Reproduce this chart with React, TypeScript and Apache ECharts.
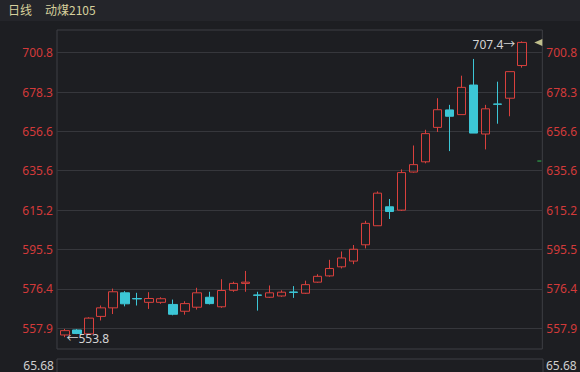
import React, { useEffect, useRef } from 'react';
import * as echarts from 'echarts';

// ---- data ----
const categories = ['1','2','3','4','5','6','7','8','9','10','11','12','13','14','15','16','17','18','19','20','21','22','23','24','25','26','27','28','29','30','31','32','33','34','35','36','37','38','39'];
const opens  = [554.8,557.1,555.3,563.4,567.4,574.5,571.8,570.0,570.0,569.0,565.8,567.7,572.4,567.9,575.7,579.0,573.5,572.4,573.0,574.9,574.3,579.6,582.6,587.0,589.8,597.8,607.3,616.9,615.2,634.9,640.3,658.8,668.4,665.8,682.3,655.2,671.7,674.9,693.4];
const closes = [556.8,555.5,562.6,567.4,575.0,569.3,571.6,571.8,571.7,564.4,569.4,574.5,569.4,575.6,579.0,579.6,573.3,574.5,574.8,574.7,578.4,582.4,586.2,591.3,595.6,608.5,623.9,614.5,634.6,638.8,655.4,668.5,664.9,681.0,655.7,669.0,671.5,689.9,706.8];
const lows   = [553.8,555.2,554.8,561.5,564.5,568.1,568.5,566.9,569.3,563.9,564.2,566.6,569.0,567.4,575.0,575.0,566.1,572.1,572.6,572.1,574.0,579.3,582.2,586.2,588.3,596.0,607.2,610.7,614.8,634.6,639.5,656.3,646.0,665.8,655.7,646.9,660.8,664.9,692.2];
const highs  = [557.6,557.5,563.0,568.5,576.5,575.3,574.5,574.8,572.4,571.3,570.5,576.9,575.0,581.0,579.8,585.0,575.0,578.0,575.7,577.7,580.3,583.4,590.4,594.5,597.7,609.8,624.8,620.9,636.3,649.0,657.5,674.9,671.2,687.6,697.2,671.2,684.2,689.9,707.4];
const priceTicks = [557.9, 576.4, 595.5, 615.2, 635.6, 656.6, 678.3, 700.8];
const priceMin = 548.4;
const priceMax = 714.1;
const volumeTicks = [65.68];
const settleMark = 640.7;
const headerPeriod = '日线';
const headerSymbol = '动煤2105';

const BG = '#1d1e22';
const UP = '#d9403d';
const DOWN = '#3cc6d6';
const AXIS_RED = '#d33a3a';
const GRID_LINE = '#36373c';
const FRAME = '#3e3f44';
const FONT = '"Noto Sans", "Noto Sans CJK SC", sans-serif';

export default function App() {
  const ref = useRef<HTMLDivElement>(null);
  useEffect(() => {
    document.body.style.margin = '0';
    document.body.style.background = BG;
    if (!ref.current) return;
    const chart = echarts.init(ref.current, null, { renderer: 'svg' });
    const candleData = opens.map((o, i) => [o, closes[i], lows[i], highs[i]]);
    const lastClose = closes[closes.length - 1];
    const priceAxisBase = {
      gridIndex: 0,
      type: 'log' as const,
      min: priceMin,
      max: priceMax,
      axisLine: { show: false },
      axisTick: { show: false, customValues: priceTicks },
      axisLabel: {
        customValues: priceTicks,
        formatter: (v: number) => Number(v).toFixed(1),
        color: AXIS_RED,
        fontSize: 12,
        fontFamily: FONT,
        margin: 4,
      },
    };
    const volAxisBase = {
      gridIndex: 2,
      type: 'value' as const,
      min: 0,
      max: volumeTicks[0],
      axisLine: { show: false },
      axisTick: { show: false, customValues: volumeTicks },
      splitLine: { show: false },
      axisLabel: {
        customValues: volumeTicks,
        formatter: (v: number) => Number(v).toFixed(2),
        color: '#cfcfcf',
        fontSize: 12,
        lineHeight: 12,
        fontFamily: FONT,
        margin: 3,
        verticalAlign: 'top' as const,
      },
    };
    chart.setOption({
      backgroundColor: BG,
      animation: false,
      graphic: [
        { type: 'rect', left: 0, top: 0, shape: { width: 580, height: 21 }, style: { fill: '#24252a' } },
        { type: 'text', left: 8, top: 3, style: { text: headerPeriod, fill: '#d6d09c', font: '12px "Noto Sans CJK SC"' } },
        { type: 'text', left: 45, top: 3, style: { text: headerSymbol, fill: '#d6d09c', font: '12px "Noto Sans CJK SC"' } },
      ],
      grid: [
        { left: 57, right: 37, top: 30, bottom: 23, show: true, borderColor: FRAME, borderWidth: 1, backgroundColor: 'transparent' },
        { left: 59, right: 52.2, top: 30, bottom: 23 },
        { left: 57, right: 37, top: 359, height: 60, show: true, borderColor: FRAME, borderWidth: 1, backgroundColor: 'transparent' },
      ],
      xAxis: [
        { gridIndex: 0, type: 'value', min: 0, max: 1, show: false },
        { gridIndex: 1, type: 'category', data: categories, show: false, boundaryGap: true },
        { gridIndex: 2, type: 'value', min: 0, max: 1, show: false },
      ],
      yAxis: [
        { ...priceAxisBase, position: 'left', splitLine: { show: true, lineStyle: { color: GRID_LINE, width: 1 } } },
        { ...priceAxisBase, position: 'right', splitLine: { show: false } },
        { gridIndex: 1, type: 'log', min: priceMin, max: priceMax, show: false, splitLine: { show: false } },
        { ...volAxisBase, position: 'left' },
        { ...volAxisBase, position: 'right' },
      ],
      series: [
        {
          type: 'candlestick',
          xAxisIndex: 1,
          yAxisIndex: 2,
          data: candleData,
          barWidth: 9,
          itemStyle: {
            color: 'rgba(0,0,0,0)',
            color0: DOWN,
            borderColor: UP,
            borderColor0: DOWN,
            borderWidth: 1,
          },
          markPoint: {
            symbol: 'circle',
            symbolSize: 1,
            itemStyle: { color: 'rgba(0,0,0,0)' },
            label: { show: true, color: '#d4d4d4', fontSize: 12, fontFamily: FONT },
            data: [
              { type: 'max', valueDim: 'highest', label: { position: 'left', distance: 6, offset: [0, 3], formatter: (p: any) => p.value + '→' } },
              { type: 'min', valueDim: 'lowest', label: { position: 'right', distance: 1, offset: [0, 1], formatter: (p: any) => '←' + p.value } },
            ],
          },
        },
        {
          type: 'scatter',
          xAxisIndex: 0,
          yAxisIndex: 0,
          data: [[1, lastClose]],
          symbol: 'triangle',
          symbolRotate: 90,
          symbolSize: [7, 8],
          symbolOffset: [-4, 0],
          itemStyle: { color: '#e8e6a6' },
          clip: false,
          silent: true,
        },
        {
          type: 'scatter',
          xAxisIndex: 0,
          yAxisIndex: 0,
          data: [[1, settleMark]],
          symbol: 'rect',
          symbolSize: [4, 1.5],
          symbolOffset: [-3, 0],
          itemStyle: { color: '#2fa04a' },
          clip: false,
          silent: true,
        },
      ],
    });
    return () => chart.dispose();
  }, []);
  return <div ref={ref} style={{ width: 580, height: 372, background: BG }} />;
}
